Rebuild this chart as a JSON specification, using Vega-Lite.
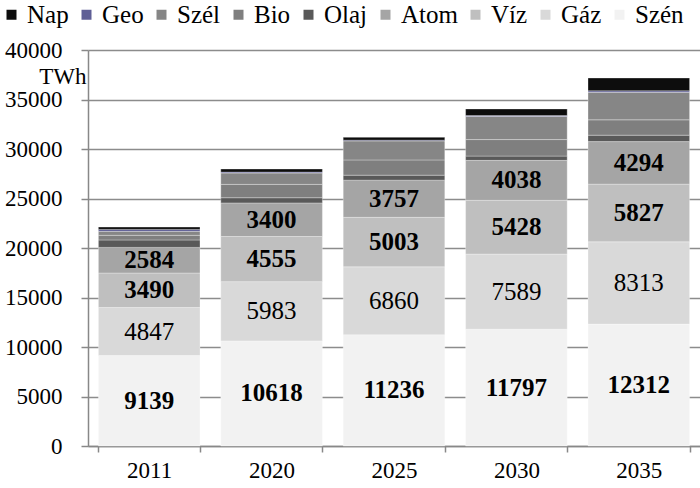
{
  "$schema": "https://vega.github.io/schema/vega-lite/v6.json",
  "width": 612,
  "height": 396,
  "autosize": {"type": "none"},
  "padding": {"left": 88, "top": 50, "right": 0, "bottom": 42},
  "background": "white",
  "config": {
    "view": {"stroke": null},
    "font": "Liberation Serif",
    "axis": {"labelFont": "Liberation Serif", "titleFont": "Liberation Serif"},
    "legend": {"labelFont": "Liberation Serif", "titleFont": "Liberation Serif", "padding": 0},
    "text": {"font": "Liberation Serif"}
  },
  "datasets": {
    "order": [
      {"source": "Szén", "rank": 1},
      {"source": "Gáz", "rank": 2},
      {"source": "Víz", "rank": 3},
      {"source": "Atom", "rank": 4},
      {"source": "Olaj", "rank": 5},
      {"source": "Bio", "rank": 6},
      {"source": "Szél", "rank": 7},
      {"source": "Geo", "rank": 8},
      {"source": "Nap", "rank": 9}
    ],
    "gen": [
      {"year": "2011", "source": "Szén", "value": 9139},
      {"year": "2011", "source": "Gáz", "value": 4847},
      {"year": "2011", "source": "Víz", "value": 3490},
      {"year": "2011", "source": "Atom", "value": 2584},
      {"year": "2011", "source": "Olaj", "value": 750},
      {"year": "2011", "source": "Bio", "value": 470},
      {"year": "2011", "source": "Szél", "value": 400},
      {"year": "2011", "source": "Geo", "value": 200},
      {"year": "2011", "source": "Nap", "value": 230},
      {"year": "2020", "source": "Szén", "value": 10618},
      {"year": "2020", "source": "Gáz", "value": 5983},
      {"year": "2020", "source": "Víz", "value": 4555},
      {"year": "2020", "source": "Atom", "value": 3400},
      {"year": "2020", "source": "Olaj", "value": 520},
      {"year": "2020", "source": "Bio", "value": 1350},
      {"year": "2020", "source": "Szél", "value": 1150},
      {"year": "2020", "source": "Geo", "value": 90},
      {"year": "2020", "source": "Nap", "value": 310},
      {"year": "2025", "source": "Szén", "value": 11236},
      {"year": "2025", "source": "Gáz", "value": 6860},
      {"year": "2025", "source": "Víz", "value": 5003},
      {"year": "2025", "source": "Atom", "value": 3757},
      {"year": "2025", "source": "Olaj", "value": 500},
      {"year": "2025", "source": "Bio", "value": 1540},
      {"year": "2025", "source": "Szél", "value": 1920},
      {"year": "2025", "source": "Geo", "value": 80},
      {"year": "2025", "source": "Nap", "value": 280},
      {"year": "2030", "source": "Szén", "value": 11797},
      {"year": "2030", "source": "Gáz", "value": 7589},
      {"year": "2030", "source": "Víz", "value": 5428},
      {"year": "2030", "source": "Atom", "value": 4038},
      {"year": "2030", "source": "Olaj", "value": 430},
      {"year": "2030", "source": "Bio", "value": 1670},
      {"year": "2030", "source": "Szél", "value": 2330},
      {"year": "2030", "source": "Geo", "value": 90},
      {"year": "2030", "source": "Nap", "value": 670},
      {"year": "2035", "source": "Szén", "value": 12312},
      {"year": "2035", "source": "Gáz", "value": 8313},
      {"year": "2035", "source": "Víz", "value": 5827},
      {"year": "2035", "source": "Atom", "value": 4294},
      {"year": "2035", "source": "Olaj", "value": 650},
      {"year": "2035", "source": "Bio", "value": 1550},
      {"year": "2035", "source": "Szél", "value": 2774},
      {"year": "2035", "source": "Geo", "value": 160},
      {"year": "2035", "source": "Nap", "value": 1290}
    ]
  },
  "data": {"name": "gen"},
  "transform": [
    {"lookup": "source", "from": {"data": {"name": "order"}, "key": "source", "fields": ["rank"]}}
  ],
  "encoding": {
    "x": {
      "field": "year",
      "type": "ordinal",
      "scale": {"paddingInner": 0.17, "paddingOuter": 0.085},
      "axis": {
        "title": null,
        "labelAngle": 0,
        "labelFont": "Liberation Serif",
        "labelFontSize": 23,
        "labelColor": "black",
        "labelPadding": 7,
        "domainColor": "#888888",
        "domainWidth": 1.5,
        "tickColor": "#888888",
        "tickWidth": 1.5,
        "tickSize": 6,
        "tickBand": "extent",
        "grid": false
      }
    },
    "order": {"field": "rank", "type": "quantitative", "sort": "ascending"}
  },
  "layer": [
    {
      "mark": {"type": "bar", "stroke": "white", "strokeOpacity": 0.3, "strokeWidth": 1},
      "encoding": {
        "y": {
          "field": "value",
          "type": "quantitative",
          "stack": "zero",
          "scale": {"domain": [0, 40000]},
          "axis": {
            "title": "TWh",
            "titleFont": "Liberation Serif",
            "titleAngle": 0,
            "titleAlign": "right",
            "titleBaseline": "alphabetic",
            "titleX": -2,
            "titleY": 33,
            "titleFontSize": 23,
            "titleFontWeight": "normal",
            "titleColor": "black",
            "values": [0, 5000, 10000, 15000, 20000, 25000, 30000, 35000, 40000],
            "format": "d",
            "labelFont": "Liberation Serif",
            "labelFontSize": 23,
            "labelColor": "black",
            "labelPadding": 19,
            "tickSize": 7,
            "tickColor": "#888888",
            "tickWidth": 1.5,
            "domainColor": "#888888",
            "domainWidth": 1.5,
            "gridColor": "#8c8c8c",
            "gridWidth": 1.3
          }
        },
        "color": {
          "field": "source",
          "type": "nominal",
          "scale": {
            "domain": ["Nap", "Geo", "Szél", "Bio", "Olaj", "Atom", "Víz", "Gáz", "Szén"],
            "range": ["#0d0d0d", "#5f5f96", "#868686", "#7f7f7f", "#595959", "#a5a5a5", "#bfbfbf", "#d9d9d9", "#f2f2f2"]
          },
          "legend": {
            "title": null,
            "orient": "none",
            "legendX": -89,
            "legendY": -48,
            "direction": "horizontal",
            "columns": 9,
            "symbolType": "square",
            "symbolSize": 100,
            "symbolStrokeWidth": 0,
            "labelFont": "Liberation Serif",
            "labelFontSize": 25,
            "labelColor": "black",
            "labelOffset": 3,
            "columnPadding": 5
          }
        }
      }
    },
    {
      "mark": {"type": "text", "fontSize": 25, "fontWeight": "bold", "baseline": "middle", "font": "Liberation Serif", "color": "black"},
      "encoding": {
        "y": {"field": "value", "type": "quantitative", "stack": "zero", "bandPosition": 0.5},
        "detail": {"field": "source", "type": "nominal"},
        "text": {
          "condition": {"test": "indexof(['Szén','Víz','Atom'], datum.source) >= 0", "field": "value", "type": "nominal"},
          "value": ""
        }
      }
    },
    {
      "mark": {"type": "text", "fontSize": 25, "fontWeight": "normal", "baseline": "middle", "font": "Liberation Serif", "color": "black"},
      "encoding": {
        "y": {"field": "value", "type": "quantitative", "stack": "zero", "bandPosition": 0.5},
        "detail": {"field": "source", "type": "nominal"},
        "text": {
          "condition": {"test": "datum.source === 'Gáz'", "field": "value", "type": "nominal"},
          "value": ""
        }
      }
    }
  ]
}
